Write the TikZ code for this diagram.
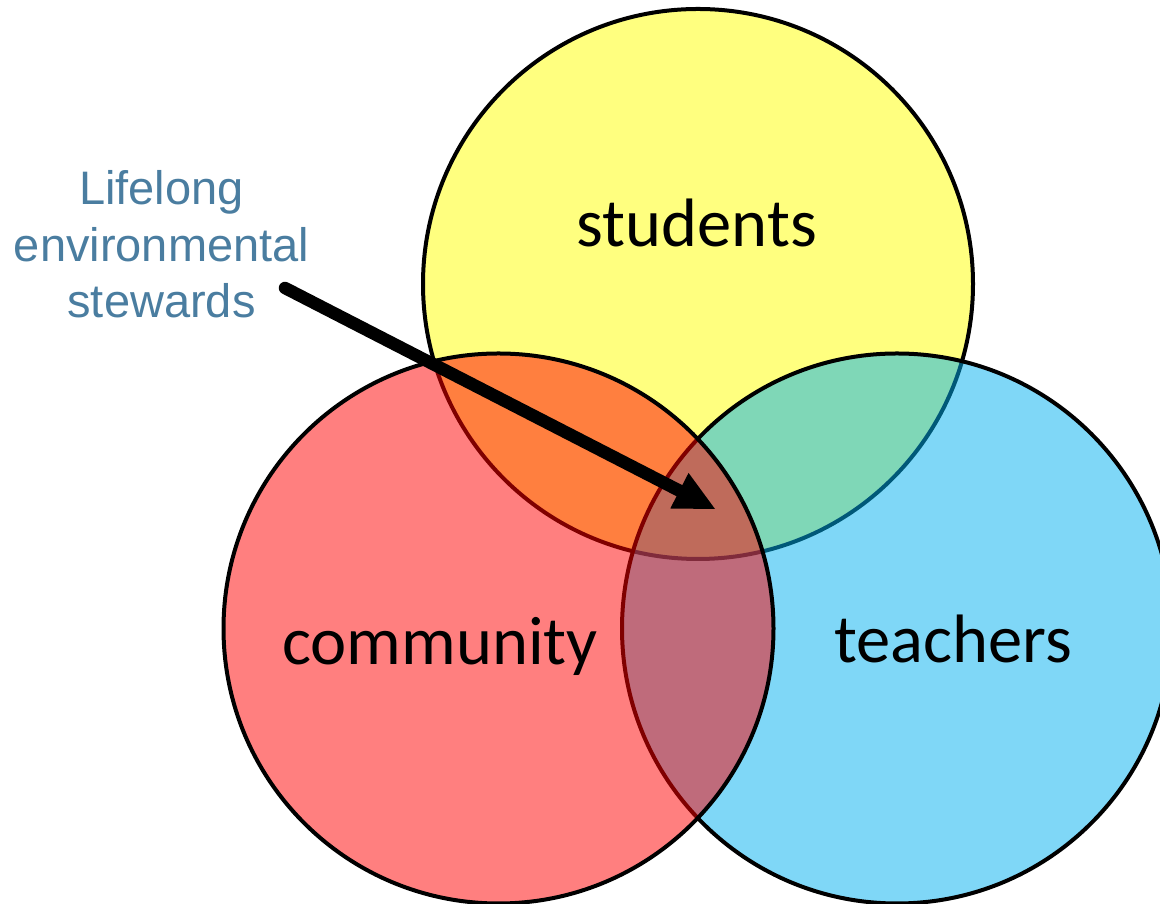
\documentclass[tikz,border=0pt]{standalone}
\usepackage{fontspec}
\setmainfont{Carlito}
\newfontfamily\arialf{Liberation Sans}
\usetikzlibrary{arrows.meta}
\definecolor{cyel}{RGB}{255,255,0}
\definecolor{cblu}{RGB}{0,176,240}
\definecolor{cred}{RGB}{255,0,0}
\definecolor{ctxt}{RGB}{74,125,160}
\begin{document}
\begin{tikzpicture}[x=1pt,y=1pt,
  venn/.style={circle, draw=black, line width=4pt, fill opacity=0.5, draw opacity=1, minimum size=550pt, inner sep=0pt},
  biglabel/.style={font=\fontsize{68.5}{82}\selectfont, text=black, inner sep=0pt},
  note/.style={font=\arialf\fontsize{47}{56.5}\selectfont, text=ctxt, align=center, inner sep=0pt},
  pointer/.style={line width=12.5pt, line cap=round, -{Triangle[length=40pt,width=40pt,line width=0pt]}}]
\useasboundingbox (0,0) rectangle (1160,904);
\clip (0,0) rectangle (1160,904);
\node[venn, fill=cyel] (stu) at (698,620) {};
\node[venn, fill=cblu] (tea) at (897,275.5) {};
\node[venn, fill=cred] (com) at (498.5,275.5) {};
\node[biglabel, anchor=base] (stul) at (697,657) {students};
\node[biglabel, anchor=base] (coml) at (440,239) {community};
\node[biglabel, anchor=base] (teal) at (953,241) {teachers};
\node[note, anchor=base] (lbl) at (161.5,586) {Lifelong\\environmental\\stewards};
\coordinate (ps) at (285,616);
\coordinate (pe) at (715,395);
\draw[pointer] (ps) -- (pe);
\end{tikzpicture}
\end{document}
